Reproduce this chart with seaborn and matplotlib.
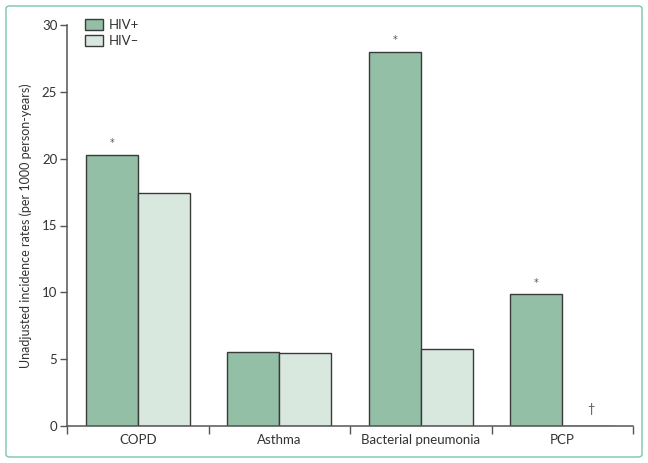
import matplotlib
matplotlib.use("Agg")
import matplotlib.pyplot as plt
import seaborn as sns
import pandas as pd
import numpy as np
from matplotlib.patches import FancyBboxPatch

categories = ["COPD", "Asthma", "Bacterial pneumonia", "PCP"]
hiv_pos = [20.3, 5.5, 28.0, 9.85]
hiv_neg = [17.4, 5.45, 5.75, 0.0]
groups = ["HIV+", "HIV\u2013"]
star_marks = ["*", "", "*", "*"]   # above HIV+ bars
dagger_marks = ["", "", "", "\u2020"]  # HIV- bars
yticks = [0, 5, 10, 15, 20, 25, 30]

df = pd.DataFrame({
    "category": categories * 2,
    "group": [groups[0]] * 4 + [groups[1]] * 4,
    "value": hiv_pos + hiv_neg,
})

sns.set_style("white")
plt.rcParams["font.family"] = ["Lato", "DejaVu Sans"]

fig = plt.figure(figsize=(6.48, 4.63), dpi=100)
ax = fig.add_axes([67 / 648, 1 - 426 / 463, (633 - 67) / 648, (426 - 25) / 463])

pal = {groups[0]: "#93bfa7", groups[1]: "#d8e8df"}
sns.barplot(data=df, x="category", y="value", hue="group", order=categories,
            hue_order=groups, palette=pal, width=0.735, edgecolor="#3a3a3a",
            linewidth=1.0, saturation=1, ax=ax, errorbar=None)

ax.set_xlim(-0.5, 3.5)
ax.set_ylim(0, 30)
ax.set_yticks(yticks)
ax.set_xlabel("")
ax.set_ylabel("Unadjusted incidence rates (per 1000 person-years)", fontsize=9,
              color="#333333", labelpad=7)
ax.tick_params(axis="y", length=5, width=1, color="#555555", labelsize=9.5,
               labelcolor="#333333", direction="out", left=True, pad=2)
ax.tick_params(axis="x", which="major", length=0, labelsize=9.5, labelcolor="#333333", pad=6)
ax.set_xticks(np.arange(-0.5, 4.0, 1.0), minor=True)
ax.tick_params(axis="x", which="minor", length=6, width=1, color="#555555", bottom=True,
               direction="out")
for s in ["top", "right"]:
    ax.spines[s].set_visible(False)
for s in ["left", "bottom"]:
    ax.spines[s].set_color("#555555")
    ax.spines[s].set_linewidth(1.1)

off = 0.735 / 4
for i, (m, v) in enumerate(zip(star_marks, hiv_pos)):
    if m:
        ax.text(i - off, v + 0.85, m, ha="center", va="center", fontsize=7,
                color="#555555", family="DejaVu Sans")
for i, (m, v) in enumerate(zip(dagger_marks, hiv_neg)):
    if m:
        ax.text(i + off + 0.02, v + 1.25, m, ha="center", va="center", fontsize=9, color="#555555")

leg = ax.legend(loc="upper left", bbox_to_anchor=(0.01, 1.045), frameon=False, fontsize=9.5,
                handlelength=1.4, handleheight=0.9, handletextpad=0.45, labelspacing=0.3)
for t in leg.get_texts():
    t.set_color("#333333")

frame = FancyBboxPatch((6 / 648, 6 / 463), 636 / 648, 451 / 463,
                       boxstyle="round,pad=0,rounding_size=0.006",
                       transform=fig.transFigure, fill=False, edgecolor="#7cc6a8",
                       linewidth=1.0)
fig.patches.append(frame)

fig.savefig("out.png", dpi=100)
